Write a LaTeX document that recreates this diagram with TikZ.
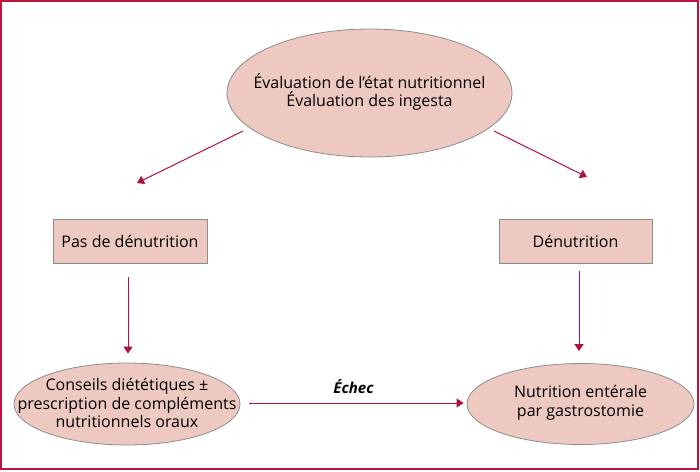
\documentclass[tikz,border=0pt]{standalone}
\usepackage{fontspec}
\setmainfont{Open Sans}
\usetikzlibrary{shapes.geometric,arrows.meta}
\definecolor{framec}{HTML}{C0143C}
\definecolor{arrowc}{HTML}{B0103C}
\definecolor{fillc}{HTML}{EEC9C1}
\definecolor{edgec}{HTML}{8C8C8C}
\tikzset{
  ell/.style={ellipse,draw=edgec,fill=fillc,line width=0.8pt,inner sep=0pt},
  txt/.style={align=center,inner sep=0pt,font=\fontsize{16}{18.5}\selectfont},
  boxn/.style={rectangle,draw=edgec,fill=fillc,line width=0.8pt,inner sep=0pt,align=center,font=\fontsize{16}{18.5}\selectfont},
  conn/.style={draw=arrowc,line width=1pt,-{Triangle[width=9pt,length=7pt]}},
}
\begin{document}
\begin{tikzpicture}[x=1pt,y=-1pt]
\useasboundingbox (0,0) rectangle (700,471);
\draw[framec,line width=1.6pt] (1,1) rectangle (698,469);
\node[ell,minimum width=285pt,minimum height=128pt] (top) at (369.5,93) {};
\node[txt] (toptxt) at (369.5,92) {Évaluation de l’état nutritionnel\\Évaluation des ingesta};
\node[boxn,minimum width=154pt,minimum height=44pt] (pas) at (130,241) {Pas de dénutrition};
\node[boxn,minimum width=153pt,minimum height=44pt] (den) at (575.5,241) {Dénutrition};
\node[ell,minimum width=226pt,minimum height=82pt] (cons) at (127,404) {};
\node[txt] (constxt) at (127,403) {Conseils diététiques ±\\prescription de compléments\\nutritionnels oraux};
\node[ell,minimum width=227pt,minimum height=81pt] (nut) at (580.5,404) {};
\node[txt] (nuttxt) at (580.5,403) {Nutrition entérale\\par gastrostomie};
\coordinate (l1) at (243,131);
\coordinate (l2) at (137,183);
\coordinate (r1) at (494,131);
\coordinate (r2) at (587,177);
\draw[conn] (l1) -- (l2);
\draw[conn] (r1) -- (r2);
\draw[conn,shorten <=14pt,shorten >=9pt] (pas.south -| 128,0) -- (cons.north -| 128,0);
\draw[conn,shorten <=8pt,shorten >=12pt] (den.south -| 579,0) -- (nut.north -| 579,0);
\draw[conn,shorten <=9pt,shorten >=3pt] (cons.east |- 0,403) -- node[above=6pt,font=\fontsize{15}{16}\selectfont\bfseries\itshape,text=black] (echec) {Échec} (nut.west |- 0,403);
\end{tikzpicture}
\end{document}
